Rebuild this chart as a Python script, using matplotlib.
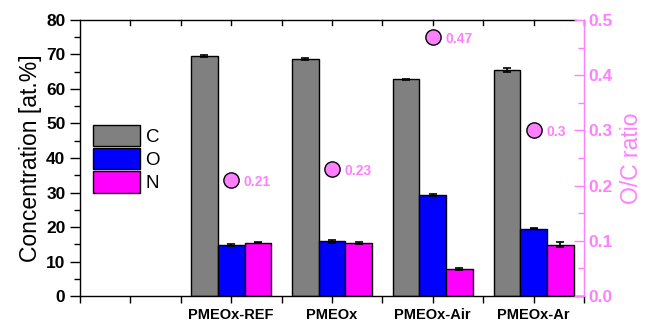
import matplotlib
matplotlib.use('Agg')
import matplotlib.pyplot as plt
from matplotlib.ticker import MultipleLocator, FixedLocator
import numpy as np

plt.rcParams['font.family'] = ['Liberation Sans', 'DejaVu Sans']

samples = ['', 'PMEOx-REF', 'PMEOx', 'PMEOx-Air', 'PMEOx-Ar']
carbon = [69.6, 68.7, 62.8, 65.4]
carbon_err = [0.3, 0.2, 0.2, 0.6]
oxygen = [14.8, 15.8, 29.3, 19.5]
oxygen_err = [0.3, 0.5, 0.3, 0.15]
nitrogen = [15.5, 15.4, 7.8, 14.9]
nitrogen_err = [0.1, 0.3, 0.4, 0.7]
oc_ratio = [0.21, 0.23, 0.47, 0.3]
oc_labels = ['0.21', '0.23', '0.47', '0.3']

pink = '#ff80ff'
fig = plt.figure(figsize=(6.49, 3.25), dpi=100)
ax = fig.add_axes([0.1233, 0.0892, 0.7765, 0.8493])
x = np.arange(1, len(samples))
w = 0.265
err_kw = dict(ecolor='black', capsize=3, elinewidth=1.2, capthick=1.2)
ax.bar(x - w, carbon, w, yerr=carbon_err, color='#808080', edgecolor='black', linewidth=1, label='C', error_kw=err_kw)
ax.bar(x, oxygen, w, yerr=oxygen_err, color='#0000ff', edgecolor='black', linewidth=1, label='O', error_kw=err_kw)
ax.bar(x + w, nitrogen, w, yerr=nitrogen_err, color='#ff00ff', edgecolor='black', linewidth=1, label='N', error_kw=err_kw)

ax.set_xlim(-0.5, 4.5)
ax.set_ylim(0, 80)
ax.set_xticks(range(len(samples)))
ax.set_xticklabels(samples, fontsize=10.5, fontweight='bold')
ax.xaxis.set_minor_locator(FixedLocator(np.arange(-0.5, 4.6, 1.0)))
ax.yaxis.set_major_locator(MultipleLocator(10))
ax.yaxis.set_minor_locator(MultipleLocator(5))
ax.tick_params(axis='y', which='major', direction='out', length=7, width=1, labelsize=12.5)
ax.tick_params(axis='y', which='minor', direction='out', length=4, width=1)
ax.tick_params(axis='x', which='both', direction='out', length=5, width=1, top=False)
for lab in ax.get_yticklabels():
    lab.set_fontweight('bold')
ax.set_ylabel('Concentration [at.%]', fontsize=16.5, labelpad=3)
ax.spines['right'].set_visible(False)
ax.spines['top'].set_bounds(-0.5, 4.42)
for s in ['left', 'bottom', 'top']:
    ax.spines[s].set_linewidth(1)

# inward ticks on the top spine
for xt in np.arange(0, 4.6, 0.5):
    ax.plot([xt, xt], [80, 78.6], color='black', lw=1, clip_on=False)

leg = ax.legend(loc='upper left', bbox_to_anchor=(0.026, 0.62), frameon=False,
                fontsize=13.5, handlelength=2.5, handleheight=1.35, labelspacing=0.12,
                handletextpad=0.3, borderpad=0, borderaxespad=0)

ax2 = ax.twinx()
ax2.set_ylim(0, 0.5)
ax2.plot(x, oc_ratio, 'o', ms=11, mfc=pink, mec='black', mew=1, ls='none')
for xi, v, t in zip(x, oc_ratio, oc_labels):
    ax2.annotate(t, (xi, v), xytext=(9, -1.5), textcoords='offset points',
                 color=pink, fontsize=10, fontweight='bold', va='center')
ax2.yaxis.set_major_locator(MultipleLocator(0.1))
ax2.yaxis.set_minor_locator(MultipleLocator(0.05))
ax2.yaxis.set_major_formatter(matplotlib.ticker.FormatStrFormatter('%.1f'))
ax2.tick_params(axis='y', which='major', direction='in', length=7, width=1, colors=pink, labelsize=12.5)
ax2.tick_params(axis='y', which='minor', direction='in', length=4, width=1, colors=pink)
for lab in ax2.get_yticklabels():
    lab.set_fontweight('bold')
ax2.set_ylabel('O/C ratio', color=pink, fontsize=16.5, labelpad=5)
for s in ['left', 'top', 'bottom']:
    ax2.spines[s].set_visible(False)
ax2.spines['right'].set_color(pink)
ax2.spines['right'].set_linewidth(1)

fig.savefig('out.png', dpi=100)
